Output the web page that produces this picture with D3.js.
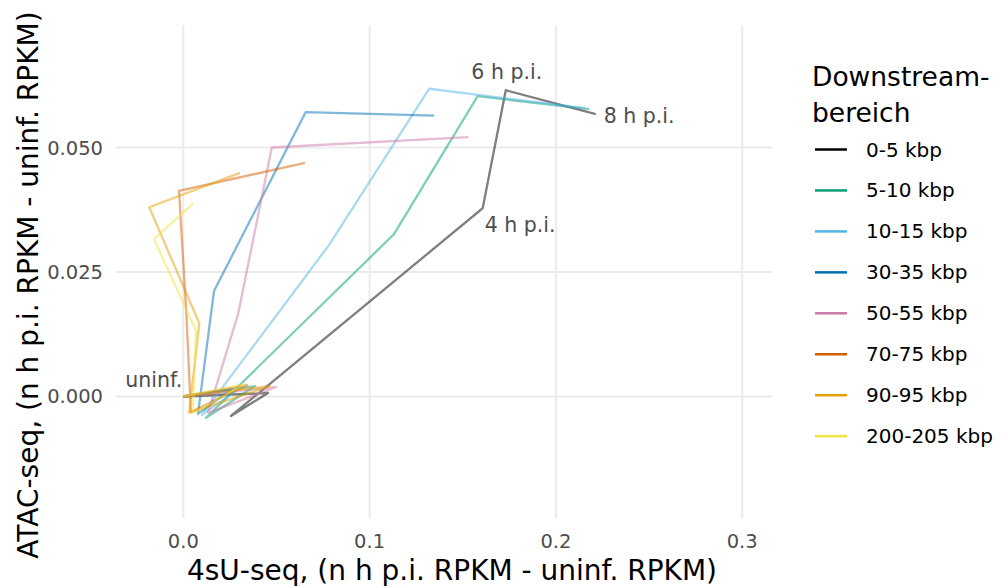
<!DOCTYPE html>
<html>
<head>
<meta charset="utf-8">
<script src="https://cdn.jsdelivr.net/npm/d3@7"></script>
<style>
  body { margin: 0; background: #fff; }
  text { font-family: "DejaVu Sans", sans-serif; }
</style>
</head>
<body>
<figure id="chart" style="margin:0"></figure>
<script>
// categories (downstream windows) and their colours
const categories = ["0-5 kbp", "5-10 kbp", "10-15 kbp", "30-35 kbp", "50-55 kbp", "70-75 kbp", "90-95 kbp", "200-205 kbp"];
const colors = ["#000000", "#009E73", "#56B4E9", "#0072B2", "#CC79A7", "#D55E00", "#E69F00", "#F0E442"];
const timepoints = ["uninf.", "1 h p.i.", "2 h p.i.", "4 h p.i.", "6 h p.i.", "8 h p.i."];

// x: 4sU-seq difference, one row per category, one value per time point
const su4Values = [
    [0, 0.0455, 0.0256, 0.1607, 0.1731, 0.2214],
    [0, 0.0385, 0.0122, 0.1131, 0.1580, 0.2179],
    [0, 0.0304, 0.0100, 0.0782, 0.1320, 0.2156],
    [0, 0.0251, 0.0079, 0.0165, 0.0657, 0.1347],
    [0, 0.0498, 0.0133, 0.0295, 0.0475, 0.1530],
    [0, 0.0342, 0.0041, 0.0016, -0.0023, 0.0653],
    [0, 0.0465, 0.0031, 0.0086, -0.0183, 0.0304],
    [0, 0.0331, 0.0052, 0.0068, -0.0157, 0.0054]
];
// y: ATAC-seq difference
const atacValues = [
    [0, 0.0007, -0.0039, 0.0378, 0.0615, 0.0567],
    [0, 0.0021, -0.0043, 0.0326, 0.0603, 0.0577],
    [0, 0.0017, -0.0037, 0.0304, 0.0618, 0.0579],
    [0, 0.0013, -0.0035, 0.0212, 0.0571, 0.0564],
    [0, 0.0019, -0.0033, 0.0167, 0.0500, 0.0521],
    [0, 0.0023, -0.0031, 0.0170, 0.0413, 0.0469],
    [0, 0.0021, -0.0033, 0.0147, 0.0380, 0.0449],
    [0, 0.0025, -0.0033, 0.0132, 0.0316, 0.0388]
];
const xTicks = [0, 0.1, 0.2, 0.3];
const yTicks = [0, 0.025, 0.05];
// time points labelled on the 0-5 kbp series
const labelled = ["uninf.", "4 h p.i.", "6 h p.i.", "8 h p.i."];

const width = 1003, height = 588;
const panel = { left: 116, right: 772, top: 25, bottom: 518 };

const svg = d3.select("#chart").append("svg")
    .attr("width", width)
    .attr("height", height);

const x = d3.scaleLinear().domain([-0.03612, 0.3160]).range([panel.left, panel.right]);
const y = d3.scaleLinear().domain([-0.0244, 0.0746]).range([panel.bottom, panel.top]);

// grid
svg.append("g").selectAll("line").data(xTicks).join("line")
    .attr("x1", d => x(d)).attr("x2", d => x(d))
    .attr("y1", panel.top).attr("y2", panel.bottom)
    .attr("stroke", "#EBEBEB").attr("stroke-width", 2);
svg.append("g").selectAll("line").data(yTicks).join("line")
    .attr("y1", d => y(d)).attr("y2", d => y(d))
    .attr("x1", panel.left).attr("x2", panel.right)
    .attr("stroke", "#EBEBEB").attr("stroke-width", 2);

// tick labels
svg.append("g").selectAll("text").data(xTicks).join("text")
    .attr("x", d => x(d)).attr("y", 548)
    .attr("text-anchor", "middle")
    .attr("font-size", 19.5).attr("fill", "#4D4D4D")
    .text(d => d3.format(".1f")(d));
svg.append("g").selectAll("text").data(yTicks).join("text")
    .attr("x", 103).attr("y", d => y(d) + 7)
    .attr("text-anchor", "end")
    .attr("font-size", 19.5).attr("fill", "#4D4D4D")
    .text(d => d3.format(".3f")(d));

// axis titles
svg.append("text")
    .attr("x", 452).attr("y", 580)
    .attr("text-anchor", "middle").attr("font-size", 28)
    .text("4sU-seq, (n h p.i. RPKM - uninf. RPKM)");
svg.append("text")
    .attr("transform", "translate(38, 285) rotate(-90)")
    .attr("text-anchor", "middle").attr("font-size", 28)
    .text("ATAC-seq, (n h p.i. RPKM - uninf. RPKM)");

// paths
const line = d3.line().x(d => x(d[0])).y(d => y(d[1]));
const series = categories.map((c, i) => ({
    name: c,
    color: colors[i],
    points: su4Values[i].map((v, j) => [v, atacValues[i][j]])
}));

svg.append("g").selectAll("path").data(series).join("path")
    .attr("d", d => line(d.points))
    .attr("fill", "none")
    .attr("stroke", d => d.color)
    .attr("stroke-opacity", 0.5)
    .attr("stroke-width", 2.3)
    .attr("stroke-linejoin", "round");

// time point labels (on 0-5 kbp)
const labelOffsets = {
    "uninf.": [-1, -9, "end"],
    "4 h p.i.": [2, 24, "start"],
    "6 h p.i.": [1, -11, "middle"],
    "8 h p.i.": [8, 9, "start"]
};
svg.append("g").selectAll("text").data(labelled).join("text")
    .attr("x", d => x(su4Values[0][timepoints.indexOf(d)]) + labelOffsets[d][0])
    .attr("y", d => y(atacValues[0][timepoints.indexOf(d)]) + labelOffsets[d][1])
    .attr("text-anchor", d => labelOffsets[d][2])
    .attr("font-size", 20.5).attr("fill", "#4D4D4D")
    .text(d => d);

// legend
const legend = svg.append("g");
legend.append("text")
    .attr("x", 812).attr("y", 86).attr("font-size", 26.5)
    .text("Downstream-");
legend.append("text")
    .attr("x", 812).attr("y", 122).attr("font-size", 26.5)
    .text("bereich");
const rows = legend.selectAll("g.row").data(series).join("g")
    .attr("class", "row")
    .attr("transform", (d, i) => `translate(0, ${149.5 + i * 40.95})`);
rows.append("line")
    .attr("x1", 815).attr("x2", 847)
    .attr("stroke", d => d.color).attr("stroke-width", 2.5);
rows.append("text")
    .attr("x", 866).attr("y", 7)
    .attr("font-size", 20)
    .text(d => d.name);
</script>
</body>
</html>
